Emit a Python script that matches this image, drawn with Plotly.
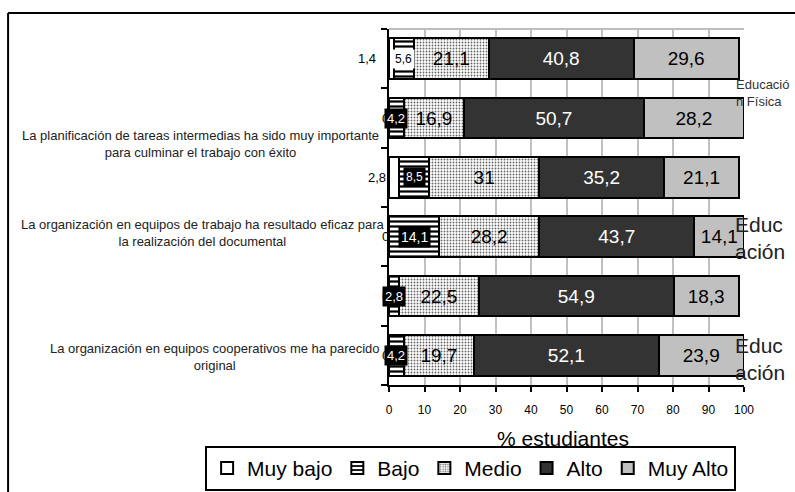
import plotly.graph_objects as go

# Survey answers, one bar per row (two rows per statement), in % of students
rows = [0, 1, 2, 3, 4, 5]
muy_bajo = [1.4, 0, 2.8, 0, 0, 0]
bajo = [5.6, 4.2, 8.5, 14.1, 2.8, 4.2]
medio = [21.1, 16.9, 31, 28.2, 22.5, 19.7]
alto = [40.8, 50.7, 35.2, 43.7, 54.9, 52.1]
muy_alto = [29.6, 28.2, 21.1, 14.1, 18.3, 23.9]

levels = ["Muy bajo", "Bajo", "Medio", "Alto", "Muy Alto"]
statements = [
    "La planificación de tareas intermedias ha sido muy importante<br>para culminar el trabajo con éxito",
    "La organización en equipos de trabajo ha resultado eficaz para<br>la realización del documental",
    "La organización en equipos cooperativos me ha parecido<br>original",
]
x_ticks = [0, 10, 20, 30, 40, 50, 60, 70, 80, 90, 100]
x_title = "% estudiantes"

SANS = "Liberation Sans, Arial, sans-serif"
NARROW = "Liberation Sans Narrow, Arial Narrow, Liberation Sans, sans-serif"


def fmt(v):
    return f"{v:g}".replace(".", ",")


series = [muy_bajo, bajo, medio, alto, muy_alto]
fills = [
    dict(color="white"),
    dict(color="white", pattern=dict(shape="-", fgcolor="black", bgcolor="white",
                                     size=5, solidity=0.45, fillmode="replace")),
    dict(color="white", pattern=dict(shape=".", fgcolor="#666666", bgcolor="white",
                                     size=3, solidity=0.3, fillmode="replace")),
    dict(color="#333333"),
    dict(color="#c0c0c0"),
]
text_colors = [None, None, "black", "white", "black"]

fig = go.Figure()
for name, vals, fill, tc in zip(levels, series, fills, text_colors):
    show_text = tc is not None
    fig.add_trace(go.Bar(
        y=rows, x=vals, name=name, orientation="h",
        marker=dict(**fill, line=dict(color="black", width=2)),
        text=[fmt(v) for v in vals] if show_text else None,
        textposition="inside" if show_text else "none",
        insidetextanchor="middle",
        textangle=0,
        constraintext="none",
        textfont=dict(family=SANS, size=19, color=tc or "black"),
        hoverinfo="skip",
    ))

annotations = []

# Labels of the "Muy bajo" segments sit just left of the bars
muy_bajo_shift = [-11, 2, -1, 2, 2, 2]
for r, v, s in zip(rows, muy_bajo, muy_bajo_shift):
    annotations.append(dict(
        x=0, y=r, xref="x", yref="y", text=fmt(v), showarrow=False,
        xanchor="right", xshift=s, font=dict(family=SANS, size=13, color="black"),
    ))

# Labels of the "Bajo" segments in filled boxes
bajo_box = ["white", "black", "black", "black", "black", "black"]
bajo_font = [12, 13, 12, 14, 13, 13]
for r, lo, v, bg, fs in zip(rows, muy_bajo, bajo, bajo_box, bajo_font):
    annotations.append(dict(
        x=lo + v / 2, y=r, xref="x", yref="y", text=fmt(v), showarrow=False,
        bgcolor=bg, borderpad=2,
        font=dict(family=SANS, size=fs, color="black" if bg == "white" else "white"),
    ))

# Statement labels on the left
stmt_pos = [(-0.532, 0.678), (-0.524, 0.428), (-0.490, 0.078)]
for txt, (px, py) in zip(statements, stmt_pos):
    annotations.append(dict(
        x=px, y=py, xref="paper", yref="paper", xanchor="center", yanchor="middle",
        text=txt, showarrow=False, align="center",
        font=dict(family=NARROW, size=13, color="#222222"),
    ))

# Group name labels spilling past the right edge
annotations.append(dict(
    x=0.972, y=0.871, xref="paper", yref="paper", xanchor="left", yanchor="top",
    text="Educació<br>n Física", showarrow=False, align="left",
    font=dict(family=NARROW, size=13, color="#333333"),
))
for py in (0.49, 0.15):
    annotations.append(dict(
        x=0.97, y=py, xref="paper", yref="paper", xanchor="left", yanchor="top",
        text="Educ<br>ación", showarrow=False, align="left",
        font=dict(family=NARROW, size=21, color="#222222"),
    ))

# Axis title
annotations.append(dict(
    x=0.49, y=-0.149, xref="paper", yref="paper", xanchor="center", yanchor="middle",
    text=x_title, showarrow=False,
    font=dict(family=SANS, size=21, color="black"),
))

shapes = [
    # plot area top border
    dict(type="line", xref="paper", yref="paper", x0=0, x1=1, y0=1, y1=1,
         line=dict(color="#bdbdbd", width=2), layer="below"),
    # outer chart frame
    dict(type="line", xref="paper", yref="paper", x0=-1.073, x1=1.2, y0=1.045, y1=1.045,
         line=dict(color="black", width=2)),
    dict(type="line", xref="paper", yref="paper", x0=-1.073, x1=-1.073, y0=1.045, y1=-0.4,
         line=dict(color="black", width=2)),
]

fig.update_layout(
    width=795, height=492,
    margin=dict(l=389, r=51, t=29, b=107, autoexpand=False),
    barmode="stack", bargap=0.32,
    plot_bgcolor="white", paper_bgcolor="white",
    font=dict(family=SANS, color="black"),
    showlegend=True,
    legend=dict(
        orientation="h", x=-0.518, y=-0.171, xanchor="left", yanchor="top",
        bordercolor="black", borderwidth=2, bgcolor="white",
        font=dict(family=SANS, size=21, color="black"),
        itemwidth=30, traceorder="normal",
    ),
    annotations=annotations,
    shapes=shapes,
)
fig.update_xaxes(
    range=[0, 100], tickvals=x_ticks, ticktext=[str(t) for t in x_ticks],
    showgrid=True, gridcolor="#c0c0c0", gridwidth=2,
    showline=True, linecolor="black", linewidth=2,
    ticks="outside", ticklen=5, tickwidth=2, tickcolor="black",
    ticklabelstandoff=8,
    tickfont=dict(family=SANS, size=12, color="black"),
    zeroline=False, fixedrange=True,
)
fig.update_yaxes(
    range=[5.5, -0.5], tickvals=[-0.5, 0.5, 1.5, 2.5, 3.5, 4.5, 5.5],
    showticklabels=False, showgrid=False,
    showline=True, linecolor="black", linewidth=2,
    ticks="outside", ticklen=6, tickwidth=2, tickcolor="black",
    zeroline=False, fixedrange=True,
)

fig.write_html("out.html")
